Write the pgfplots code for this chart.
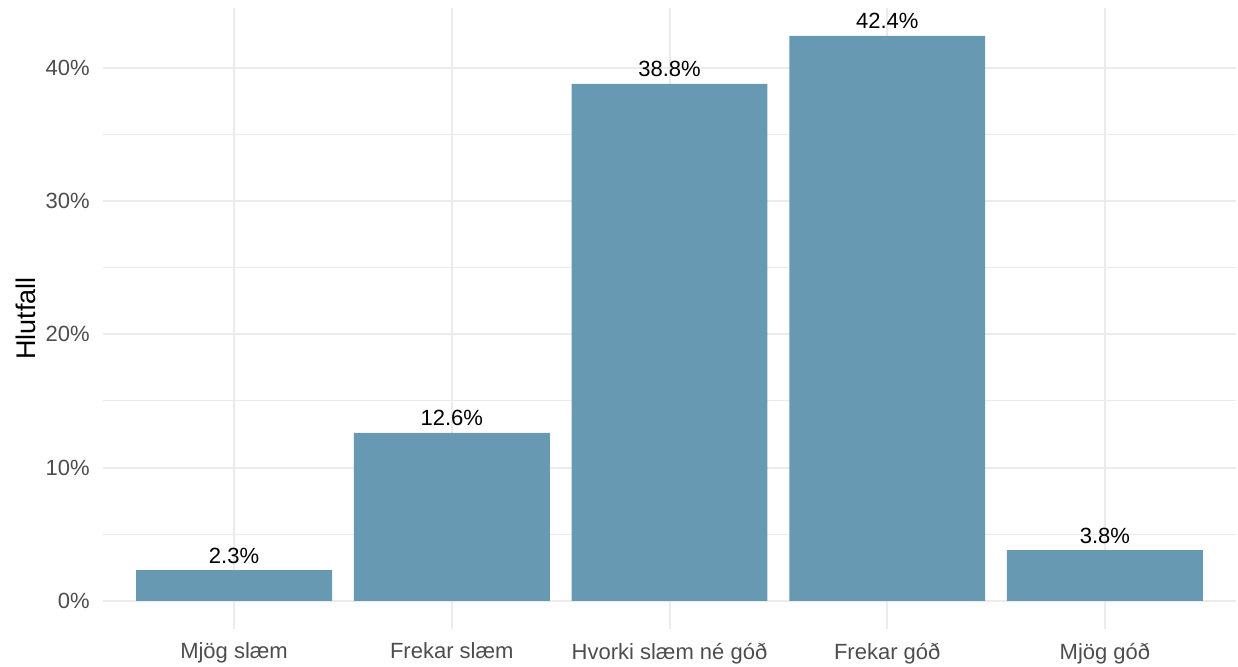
\documentclass[border=0pt]{standalone}
\usepackage{pgfplots}
\pgfplotsset{compat=1.18}
\usepackage{fontspec}
\setmainfont{Liberation Sans}

\definecolor{barcol}{HTML}{6899B3}
\definecolor{gridcol}{HTML}{EBEBEB}
\definecolor{tickcol}{HTML}{4D4D4D}

\begin{document}
\begin{tikzpicture}
\path[use as bounding box] (0,0) rectangle (619pt,333pt);
\begin{axis}[
    at={(51.7pt,18.5pt)}, anchor=south west,
    scale only axis,
    width=566.1pt, height=310.7pt,
    ybar, bar width=0.9,
    xmin=0.4, xmax=5.6,
    ymin=-2.12, ymax=44.52,
    xtick={1,2,3,4,5},
    xticklabels={Mjög slæm, Frekar slæm, Hvorki slæm né góð, Frekar góð, Mjög góð},
    ytick={0,10,20,30,40},
    yticklabels={0\%,10\%,20\%,30\%,40\%},
    minor ytick={5,15,25,35},
    xmajorgrids, ymajorgrids, yminorgrids,
    major grid style={gridcol, line width=1pt},
    minor grid style={gridcol, line width=0.5pt},
    axis line style={draw=none},
    major tick style={draw=none},
    minor tick style={draw=none},
    tick label style={font=\fontsize{11}{13}\selectfont, text=tickcol},
    xticklabel style={inner sep=0pt, anchor=north, yshift=-2.5pt},
    yticklabel style={inner sep=0pt, anchor=east, xshift=-6.7pt},
    ylabel={Hlutfall},
    ylabel style={at={(axis description cs:0,0.5)}, anchor=center, yshift=39pt,
        font=\fontsize{13.5}{16}\selectfont},
    nodes near coords={\pgfmathprintnumber[fixed,precision=1,fixed zerofill]{\pgfplotspointmeta}\%},
    nodes near coords style={font=\fontsize{11}{13}\selectfont, text=black, anchor=base, inner sep=0pt, yshift=3.5pt},
    /pgf/number format/assume math mode=true,
]
\addplot[fill=barcol, draw=none] coordinates {
  (1, 2.3) (2, 12.6) (3, 38.8) (4, 42.4) (5, 3.8)
};
\end{axis}
\end{tikzpicture}
\end{document}
